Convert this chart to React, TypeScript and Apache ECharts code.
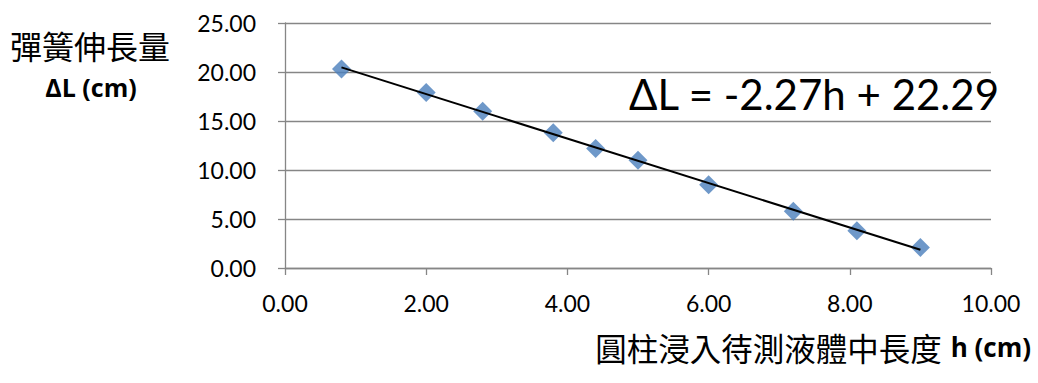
import React, { useEffect, useRef } from "react";
import * as echarts from "echarts";

const hValues = [0.8, 2.0, 2.8, 3.8, 4.4, 5.0, 6.0, 7.2, 8.1, 9.0];
const dLValues = [20.3, 17.9, 16.0, 13.8, 12.2, 11.0, 8.5, 5.8, 3.8, 2.1];
const trendX = [0.8, 9.0];
const trendY = [20.47, 1.86];
const yTitle = "彈簧伸長量";
const yUnit = "ΔL (cm)";
const xTitle = "圓柱浸入待測液體中長度";
const xUnit = "h (cm)";
const equation = "ΔL = -2.27h + 22.29";

const FONT = "Lato, 'Noto Sans CJK TC', sans-serif";
const BOLD = "'Open Sans', sans-serif";
const CJK = "'Noto Sans CJK TC', sans-serif";

export default function App() {
  const ref = useRef<HTMLDivElement>(null);
  useEffect(() => {
    const chart = echarts.init(ref.current!, null, { renderer: "svg" });
    chart.setOption({
      animation: false,
      backgroundColor: "#ffffff",
      grid: { left: 285, right: 47, top: 23, bottom: 115, containLabel: false },
      xAxis: {
        type: "value",
        min: 0,
        max: 10,
        interval: 2,
        axisLine: { show: true, lineStyle: { color: "#868686", width: 1.3 } },
        axisTick: { show: true, length: 7, lineStyle: { color: "#868686", width: 1.3 } },
        splitLine: { show: false },
        axisLabel: {
          margin: 23,
          color: "#000",
          fontFamily: FONT,
          fontSize: 23,
          formatter: (v: number) => v.toFixed(2),
        },
      },
      yAxis: {
        type: "value",
        min: 0,
        max: 25,
        interval: 5,
        axisLine: { show: true, lineStyle: { color: "#868686", width: 1.3 } },
        axisTick: { show: true, length: 7, lineStyle: { color: "#868686", width: 1.3 } },
        splitLine: { show: true, lineStyle: { color: "#868686", width: 1.3 } },
        axisLabel: {
          margin: 29,
          color: "#000",
          fontFamily: FONT,
          fontSize: 23,
          formatter: (v: number) => v.toFixed(2),
        },
      },
      series: [
        {
          type: "scatter",
          data: hValues.map((h, i) => [h, dLValues[i]]),
          symbol: "diamond",
          symbolSize: 19,
          itemStyle: { color: "#4A7EBB" },
          z: 2,
        },
        {
          type: "line",
          data: trendX.map((x, i) => [x, trendY[i]]),
          symbol: "none",
          lineStyle: { color: "#000", width: 2 },
          z: 3,
        },
      ],
      graphic: [
        {
          type: "text",
          left: 10,
          top: 29,
          style: { text: yTitle, font: `32px ${CJK}`, fill: "#000" },
        },
        {
          type: "text",
          x: 91,
          y: 87,
          style: {
            text: yUnit,
            font: `bold 25px ${BOLD}`,
            fill: "#000",
            align: "center",
            verticalAlign: "middle",
          },
        },
        {
          type: "text",
          x: 999,
          y: 94,
          style: {
            text: equation,
            font: `42px ${FONT}`,
            fill: "#000",
            align: "right",
            verticalAlign: "middle",
          },
        },
        {
          type: "text",
          x: 1031,
          y: 347,
          style: {
            text: `{a|${xTitle}}{b|${xUnit}}`,
            align: "right",
            verticalAlign: "middle",
            rich: {
              a: { font: `31.5px ${CJK}`, fill: "#000" },
              b: { font: `bold 26px ${BOLD}`, fill: "#000", padding: [0, 0, 0, 9] },
            },
          },
        },
      ],
    });
    return () => chart.dispose();
  }, []);
  return <div ref={ref} style={{ width: 1038, height: 383, position: "absolute", left: 0, top: 0 }} />;
}
